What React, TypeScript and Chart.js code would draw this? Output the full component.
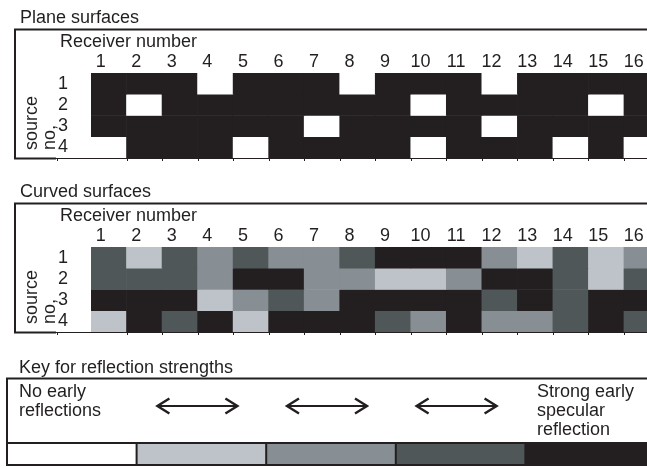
import React, { useEffect, useRef } from "react";
import { Chart, registerables } from "chart.js";

Chart.register(...registerables);

// ---------- data ----------
const receivers = ["1", "2", "3", "4", "5", "6", "7", "8", "9", "10", "11", "12", "13", "14", "15", "16"];
const sources = ["1", "2", "3", "4"];

// reflection strength levels: 0 = none ... 4 = strong early specular
const levelColors = ["#ffffff", "#bec3c9", "#878e94", "#4f5759", "#231f20"];

const planeRow1 = [4, 4, 4, 0, 4, 4, 4, 0, 4, 4, 4, 0, 4, 4, 4, 4];
const planeRow2 = [4, 0, 4, 4, 4, 4, 4, 4, 4, 0, 4, 4, 4, 4, 0, 4];
const planeRow3 = [4, 4, 4, 4, 4, 4, 0, 4, 4, 4, 4, 0, 4, 4, 4, 4];
const planeRow4 = [0, 4, 4, 4, 0, 4, 4, 4, 4, 0, 4, 4, 4, 0, 4, 0];

const curvedRow1 = [3, 1, 3, 2, 3, 2, 2, 3, 4, 4, 4, 2, 1, 3, 1, 2];
const curvedRow2 = [3, 3, 3, 2, 4, 4, 2, 2, 1, 1, 2, 4, 4, 3, 1, 3];
const curvedRow3 = [4, 4, 4, 1, 2, 3, 2, 4, 4, 4, 4, 3, 4, 3, 4, 4];
const curvedRow4 = [1, 4, 3, 4, 1, 4, 4, 4, 3, 2, 4, 2, 2, 3, 4, 3];

const planeLevels = [planeRow1, planeRow2, planeRow3, planeRow4];
const curvedLevels = [curvedRow1, curvedRow2, curvedRow3, curvedRow4];

const keyLevels = [0, 1, 2, 3, 4];
const keyTitle = "Key for reflection strengths";
const keyLeftText = ["No early", "reflections"];
const keyRightText = ["Strong early", "specular", "reflection"];
const xAxisTitle = "Receiver number";
const yAxisTitle = ["source", "no,"];

// ---------- styles ----------
const FONT = '"Liberation Sans", Arial, Helvetica, sans-serif';
const INK = "#231f20";
const FONT_SIZE = 18;

const heatmapDecor = {
  id: "heatmapDecor",
  afterDraw(chart: any, _args: any, opts: any) {
    const { ctx, chartArea, scales } = chart;
    const x = scales.x;
    const bottom = chartArea.bottom;
    const W = chart.width;
    ctx.save();
    ctx.fillStyle = INK;
    ctx.strokeStyle = INK;
    ctx.font = `${FONT_SIZE}px ${FONT}`;
    ctx.textAlign = "left";
    ctx.textBaseline = "alphabetic";
    ctx.fillText(opts.title, 20, 23);
    ctx.fillText(xAxisTitle, 60, 47);
    yAxisTitle.forEach((line: string, i: number) => {
      ctx.save();
      ctx.translate(37 + i * 18, bottom - 8);
      ctx.rotate(-Math.PI / 2);
      ctx.fillText(line, 0, 0);
      ctx.restore();
    });
    // frame
    ctx.lineWidth = 2;
    ctx.beginPath();
    ctx.moveTo(W, 29.5);
    ctx.lineTo(15, 29.5);
    ctx.lineTo(15, bottom + 0.5);
    ctx.lineTo(56, bottom + 0.5);
    ctx.stroke();
    ctx.lineWidth = 1;
    ctx.beginPath();
    ctx.moveTo(56, bottom + 0.5);
    ctx.lineTo(W, bottom + 0.5);
    ctx.stroke();
    // small ticks
    const tickXs: number[] = [57];
    for (let i = 1; i < receivers.length; i++) {
      tickXs.push((x.getPixelForValue(i - 1) + x.getPixelForValue(i)) / 2);
    }
    ctx.beginPath();
    tickXs.forEach((tx) => {
      ctx.moveTo(Math.round(tx) + 0.5, bottom);
      ctx.lineTo(Math.round(tx) + 0.5, bottom + 3);
    });
    ctx.stroke();
    ctx.restore();
  },
};

function heatmapConfig(levels: number[][], title: string): any {
  return {
    type: "bar",
    data: {
      labels: receivers,
      datasets: sources.map((s, r) => ({
        label: `source ${s}`,
        data: receivers.map(() => [r + 0.5, r + 1.5]),
        backgroundColor: levels[r].map((v) => levelColors[v]),
        borderWidth: 0,
        barPercentage: 1,
        categoryPercentage: 1,
        grouped: false,
      })),
    },
    options: {
      responsive: false,
      animation: false,
      devicePixelRatio: 1,
      layout: { padding: { left: 0, top: 0, right: 40.5, bottom: 12 } },
      plugins: {
        legend: { display: false },
        tooltip: { enabled: false },
        heatmapDecor: { title },
      },
      scales: {
        x: {
          type: "category",
          position: "top",
          offset: true,
          grid: { display: false, drawTicks: false },
          border: { display: false },
          ticks: {
            color: INK,
            font: { family: FONT, size: FONT_SIZE },
            padding: 0,
            labelOffset: -8,
            maxRotation: 0,
            autoSkip: false,
          },
          afterFit: (s: any) => {
            s.height = 73;
            s.paddingLeft = 0;
            s.paddingRight = 0;
          },
        },
        y: {
          type: "linear",
          reverse: true,
          min: 0.5,
          max: 4.5,
          grid: { display: false, drawTicks: false },
          border: { display: false },
          afterBuildTicks: (s: any) => {
            s.ticks = sources.map((_, i) => ({ value: i + 1 }));
          },
          ticks: {
            color: INK,
            font: { family: FONT, size: FONT_SIZE },
            padding: 23,
            autoSkip: false,
            callback: (_v: any, i: number) => sources[i],
          },
          afterFit: (s: any) => {
            s.width = 91;
            s.paddingTop = 0;
            s.paddingBottom = 0;
          },
        },
      },
    },
    plugins: [heatmapDecor],
  };
}

const keyDecor = {
  id: "keyDecor",
  afterDraw(chart: any) {
    const { ctx, chartArea: ca, scales } = chart;
    const x = scales.x;
    const W = chart.width;
    ctx.save();
    ctx.fillStyle = INK;
    ctx.strokeStyle = INK;
    ctx.font = `${FONT_SIZE}px ${FONT}`;
    ctx.textAlign = "left";
    ctx.textBaseline = "alphabetic";
    ctx.fillText(keyTitle, 19, 43);
    keyLeftText.forEach((t, i) => ctx.fillText(t, 19, 67 + i * 19));
    keyRightText.forEach((t, i) => ctx.fillText(t, 537, 67 + i * 19));
    // frame
    ctx.lineWidth = 2;
    ctx.beginPath();
    ctx.moveTo(W, 48.5);
    ctx.lineTo(7, 48.5);
    ctx.lineTo(7, ca.bottom);
    ctx.lineTo(W, ca.bottom);
    ctx.moveTo(7, ca.top);
    ctx.lineTo(W, ca.top);
    for (let i = 1; i < keyLevels.length; i++) {
      const px = x.getPixelForValue(i);
      ctx.moveTo(px, ca.top);
      ctx.lineTo(px, ca.bottom);
    }
    ctx.stroke();
    // arrows
    const y = 76;
    for (let i = 1; i <= 3; i++) {
      const c = x.getPixelForValue(i + 0.5) - 4;
      const x1 = c - 41;
      const x2 = c + 41;
      ctx.lineWidth = 2;
      ctx.beginPath();
      ctx.moveTo(x1 + 1, y);
      ctx.lineTo(x2 - 1, y);
      ctx.stroke();
      ctx.lineWidth = 2.4;
      ctx.beginPath();
      ctx.moveTo(x1 + 13, y - 7.5);
      ctx.lineTo(x1 + 1, y);
      ctx.lineTo(x1 + 13, y + 7.5);
      ctx.moveTo(x2 - 13, y - 7.5);
      ctx.lineTo(x2 - 1, y);
      ctx.lineTo(x2 - 13, y + 7.5);
      ctx.stroke();
    }
    ctx.restore();
  },
};

function keyConfig(): any {
  return {
    type: "bar",
    data: {
      labels: ["key"],
      datasets: keyLevels.map((lv, i) => ({
        label: `level ${lv}`,
        data: [[i, i + 1]],
        backgroundColor: levelColors[lv],
        borderWidth: 0,
        barPercentage: 1,
        categoryPercentage: 1,
        grouped: false,
      })),
    },
    options: {
      indexAxis: "y",
      responsive: false,
      animation: false,
      devicePixelRatio: 1,
      layout: { padding: { left: 7, right: 45, top: 113, bottom: 3 } },
      plugins: { legend: { display: false }, tooltip: { enabled: false } },
      scales: {
        x: { type: "linear", min: 0, max: 5, display: false },
        y: { type: "category", display: false, offset: true },
      },
    },
    plugins: [keyDecor],
  };
}

export default function App() {
  const planeRef = useRef<HTMLCanvasElement>(null);
  const curvedRef = useRef<HTMLCanvasElement>(null);
  const keyRef = useRef<HTMLCanvasElement>(null);

  useEffect(() => {
    const charts = [
      new Chart(planeRef.current as HTMLCanvasElement, heatmapConfig(planeLevels, "Plane surfaces")),
      new Chart(curvedRef.current as HTMLCanvasElement, heatmapConfig(curvedLevels, "Curved surfaces")),
      new Chart(keyRef.current as HTMLCanvasElement, keyConfig()),
    ];
    return () => charts.forEach((c) => c.destroy());
  }, []);

  return (
    <div
      style={{
        position: "absolute",
        left: 0,
        top: 0,
        width: 647,
        height: 468,
        overflow: "hidden",
        background: "#ffffff",
      }}
    >
      <canvas ref={planeRef} width={700} height={170} style={{ position: "absolute", left: 0, top: 0, width: 700, height: 170 }} />
      <canvas ref={curvedRef} width={700} height={170} style={{ position: "absolute", left: 0, top: 174, width: 700, height: 170 }} />
      <canvas ref={keyRef} width={700} height={138} style={{ position: "absolute", left: 0, top: 330, width: 700, height: 138 }} />
    </div>
  );
}
